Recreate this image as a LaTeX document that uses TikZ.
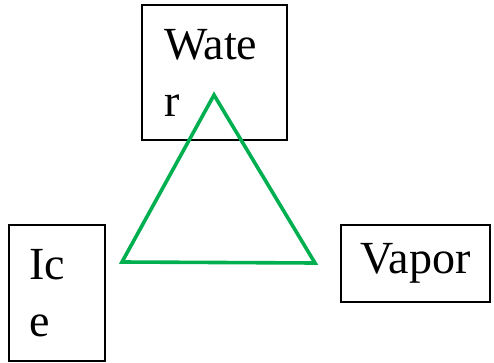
\documentclass[tikz,border=0pt]{standalone}
\usepackage{fontspec}
\setmainfont{Liberation Serif}
\usetikzlibrary{positioning}
\definecolor{phaseG}{HTML}{00B050}

\begin{document}
\begin{tikzpicture}[x=1pt, y=1pt,
  every node/.style={font=\fontsize{46}{57}\selectfont},
  phase/.style={rectangle, draw=black, line width=1.5pt, align=left, inner ysep=0pt},
  tri/.style={line width=3.6pt, phaseG}
]
  \useasboundingbox (0,0) rectangle (494,362);
  \node[phase, text width=101pt, inner xsep=22pt, minimum height=135pt] (water) at (214.5,289.5) {Wate\\r};
  \node[phase, text width=56pt, inner xsep=20pt, minimum height=136pt] (ice) at (57,69) {Ic\\e};
  \node[phase, align=center, inner xsep=0pt, minimum width=149pt, minimum height=77pt] (vapor) at (415.5,98.5) {Vapor};
  % phase triangle
  \coordinate (apex) at (214,267);
  \coordinate (baseL) at (122,100);
  \coordinate (baseR) at (315,99);
  \draw[tri] (apex) -- (baseL) -- (baseR) -- cycle;
\end{tikzpicture}
\end{document}
